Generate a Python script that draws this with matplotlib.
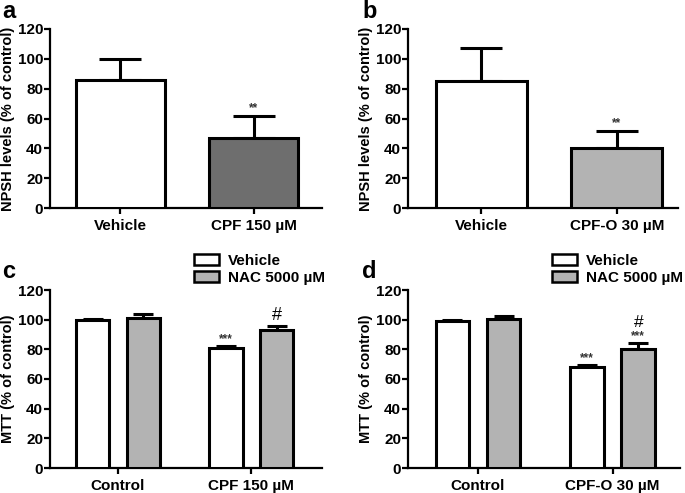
import matplotlib.pyplot as plt
import matplotlib.patches as mpatches

plt.rcParams['font.family'] = ['Liberation Sans', 'DejaVu Sans']
plt.rcParams['font.weight'] = 'bold'

# panel a / b data
npsh_labels_a = ['Vehicle', 'CPF 150 µM']
npsh_means_a = [86, 47]
npsh_err_a = [14, 14.5]
npsh_stars_a = ['', '**']

npsh_labels_b = ['Vehicle', 'CPF-O 30 µM']
npsh_means_b = [85, 40]
npsh_err_b = [22, 11.5]
npsh_stars_b = ['', '**']

# panel c / d data
mtt_groups_c = ['Control', 'CPF 150 µM']
mtt_vehicle_c = [100, 81]
mtt_vehicle_err_c = [0.6, 1.5]
mtt_nac_c = [101, 93]
mtt_nac_err_c = [3, 3]
mtt_vehicle_marks_c = ['', '***']
mtt_nac_marks_c = ['', '#']

mtt_groups_d = ['Control', 'CPF-O 30 µM']
mtt_vehicle_d = [99, 68]
mtt_vehicle_err_d = [0.6, 1.5]
mtt_nac_d = [100.5, 80.5]
mtt_nac_err_d = [2, 4]
mtt_vehicle_marks_d = ['', '***']
mtt_nac_marks_d = ['', '#\n***']

legend_labels = ['Vehicle', 'NAC 5000 µM']

W, H = 685, 493
fig = plt.figure(figsize=(W / 100, H / 100), dpi=100)


def make_axes(x0, x1, ytop, ybot):
    return fig.add_axes([x0 / W, 1 - ybot / H, (x1 - x0) / W, (ybot - ytop) / H])


def style_axes(ax, ylabel, xlim):
    ax.set_ylim(0, 120)
    ax.set_xlim(*xlim)
    ax.set_yticks(range(0, 121, 20))
    for s in ['top', 'right']:
        ax.spines[s].set_visible(False)
    for s in ['left', 'bottom']:
        ax.spines[s].set_linewidth(1.6)
    ax.tick_params(axis='y', width=1.6, length=4, labelsize=11, pad=1)
    ax.tick_params(axis='x', width=1.6, length=4, labelsize=11, pad=4)
    ax.set_ylabel(ylabel, fontsize=10.5, fontweight='bold', labelpad=2)


def npsh_panel(ax, labels, means, errs, stars, color, xlim):
    x = range(len(means))
    ax.bar(x, means, width=0.67, color=['white', color], edgecolor='black',
           linewidth=2.2, zorder=3)
    ax.errorbar(x, means, yerr=[[0] * len(errs), errs], fmt='none',
                ecolor='black', elinewidth=2.2, capsize=15, capthick=2.2, zorder=2)
    for xi, m, e, s in zip(x, means, errs, stars):
        if s:
            ax.text(xi, m + e + 1.5, s, ha='center', va='bottom', fontsize=8.5,
                    color='#333333')
    ax.set_xticks(list(x))
    ax.set_xticklabels(labels)
    style_axes(ax, 'NPSH levels (% of control)', xlim)


def mtt_panel(ax, groups, veh, veh_err, nac, nac_err, veh_marks, nac_marks, xlim):
    x = list(range(len(groups)))
    off = 0.19
    w = 0.25
    xv = [i - off for i in x]
    xn = [i + off for i in x]
    ax.bar(xv, veh, width=w, color='white', edgecolor='black', linewidth=2.2, zorder=3)
    ax.bar(xn, nac, width=w, color='#b3b3b3', edgecolor='black', linewidth=2.2, zorder=3)
    ax.errorbar(xv, veh, yerr=[[0] * len(veh), veh_err], fmt='none', ecolor='black',
                elinewidth=2.2, capsize=7, capthick=2.2, zorder=2)
    ax.errorbar(xn, nac, yerr=[[0] * len(nac), nac_err], fmt='none', ecolor='black',
                elinewidth=2.2, capsize=7, capthick=2.2, zorder=2)
    for xs, ms, es, marks in [(xv, veh, veh_err, veh_marks), (xn, nac, nac_err, nac_marks)]:
        for xi, m, e, s in zip(xs, ms, es, marks):
            if not s:
                continue
            if s == '***':
                ax.text(xi, m + e + 0.5, s, ha='center', va='bottom', fontsize=8.5,
                        color='#333333')
            elif s == '#':
                ax.text(xi, m + e + 1, s, ha='center', va='bottom', fontsize=13,
                        fontweight='normal')
            else:
                ax.text(xi, m + e + 0.5, '***', ha='center', va='bottom', fontsize=8.5,
                        color='#333333')
                ax.text(xi, m + e + 8.5, '#', ha='center', va='bottom', fontsize=12.5,
                        fontweight='normal')
    ax.set_xticks(x)
    ax.set_xticklabels(groups)
    style_axes(ax, 'MTT (% of control)', xlim)
    handles = [mpatches.Patch(facecolor='white', edgecolor='black', linewidth=1.8),
               mpatches.Patch(facecolor='#b3b3b3', edgecolor='black', linewidth=1.8)]
    ax.legend(handles, legend_labels, loc='lower left', bbox_to_anchor=(0.53, 1.03),
              frameon=False, fontsize=11, handlelength=1.6, handleheight=0.7,
              handletextpad=0.6, labelspacing=0.2, borderaxespad=0, borderpad=0)


ax_a = make_axes(50, 322, 29, 208)
npsh_panel(ax_a, npsh_labels_a, npsh_means_a, npsh_err_a, npsh_stars_a, '#6e6e6e',
           (-0.53, 1.515))
ax_b = make_axes(408, 678, 29, 208)
npsh_panel(ax_b, npsh_labels_b, npsh_means_b, npsh_err_b, npsh_stars_b, '#b3b3b3',
           (-0.54, 1.45))
ax_c = make_axes(50, 322, 290, 468)
mtt_panel(ax_c, mtt_groups_c, mtt_vehicle_c, mtt_vehicle_err_c, mtt_nac_c,
          mtt_nac_err_c, mtt_vehicle_marks_c, mtt_nac_marks_c, (-0.51, 1.53))
ax_d = make_axes(408, 680, 290, 468)
mtt_panel(ax_d, mtt_groups_d, mtt_vehicle_d, mtt_vehicle_err_d, mtt_nac_d,
          mtt_nac_err_d, mtt_vehicle_marks_d, mtt_nac_marks_d, (-0.52, 1.5))

for lbl, px, py in [('a', 2, 12), ('b', 362, 12), ('c', 2, 272), ('d', 362, 272)]:
    fig.text(px / W, 1 - py / H, lbl, fontsize=17, fontweight='bold', va='center')

fig.savefig('out.png', dpi=100)
